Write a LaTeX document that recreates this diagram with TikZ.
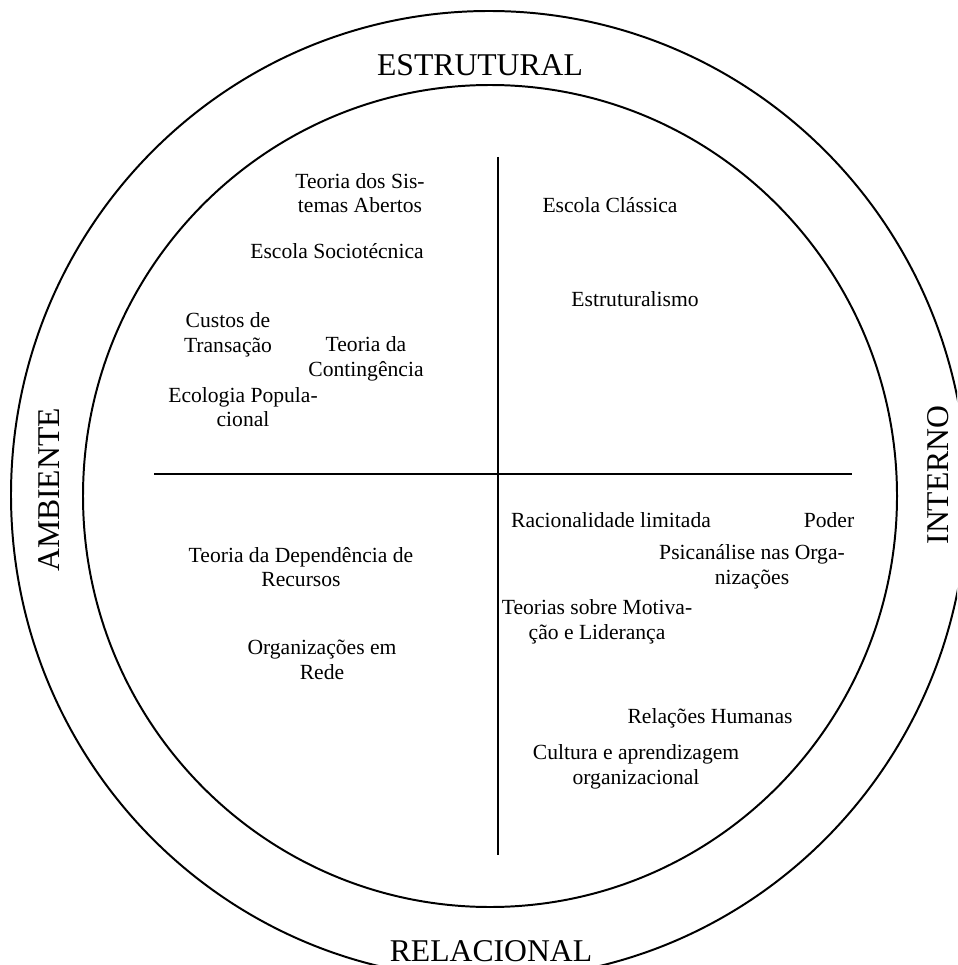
\documentclass[tikz,border=0pt]{standalone}
\usepackage{fontspec}
\setmainfont{Liberation Serif}
\usetikzlibrary{calc}

\newcommand{\ringfont}{\fontsize{17.6}{20}\selectfont}
\newcommand{\theoryfont}{\fontsize{12}{13.6}\selectfont}

\begin{document}
\begin{tikzpicture}[x=0.5556pt, y=-0.5556pt, line width=1.1pt,
  ring/.style={font=\ringfont, inner sep=0pt},
  theory/.style={font=\theoryfont, align=center, inner sep=0pt}]

  % --- Frame (picture is cut at right and bottom) ---
  \useasboundingbox (0,0) rectangle (957,965);
  \clip (0,0) rectangle (957,965);

  % --- Outer and inner rings ---
  \draw (489,495) ellipse (478 and 484);
  \draw (490,496) ellipse (407 and 411);

  % --- Ring labels ---
  \node[ring] (estrutural) at (480,65) {ESTRUTURAL};
  \node[ring, anchor=base, text depth=0pt] (relacional) at (491,961) {RELACIONAL};
  \node[ring, rotate=90] (ambiente) at (49,490) {AMBIENTE};
  \node[ring, rotate=90] (interno) at (938,475) {INTERNO};

  % --- Quadrant axes ---
  \coordinate (top) at (498,157);
  \coordinate (bottom) at (498,855);
  \coordinate (left) at (154,474);
  \coordinate (right) at (852,474);
  \draw (top) -- (bottom);
  \draw (left) -- (right);

  % --- Upper left: estrutural / ambiente ---
  \node[theory] (sistemas) at (360,193) {Teoria dos Sis-\\temas Abertos};
  \node[theory] (sociotec) at (337,251) {Escola Sociotécnica};
  \node[theory] (custos) at (228,335) {Custos de\\Transação};
  \node[theory] (conting) at (366,359) {Teoria da\\Contingência};
  \node[theory] (ecologia) at (243,407) {Ecologia Popula-\\cional};

  % --- Upper right: estrutural / interno ---
  \node[theory] (classica) at (610,205) {Escola Clássica};
  \node[theory] (estrut) at (635,299) {Estruturalismo};

  % --- Lower left: relacional / ambiente ---
  \node[theory] (dependencia) at (301,567) {Teoria da Dependência de\\Recursos};
  \node[theory] (rede) at (322,660) {Organizações em\\Rede};

  % --- Lower right: relacional / interno ---
  \node[theory] (racional) at (611,520) {Racionalidade limitada};
  \node[theory] (poder) at (829,520) {Poder};
  \node[theory] (psicanalise) at (752,567) {Psicanálise nas Orga-\\nizações};
  \node[theory] (motivacao) at (597,622) {Teorias sobre Motiva-\\ção e Liderança};
  \node[theory] (humanas) at (710,718) {Relações Humanas};
  \node[theory] (cultura) at (636,767) {Cultura e aprendizagem\\organizacional};

\end{tikzpicture}
\end{document}
